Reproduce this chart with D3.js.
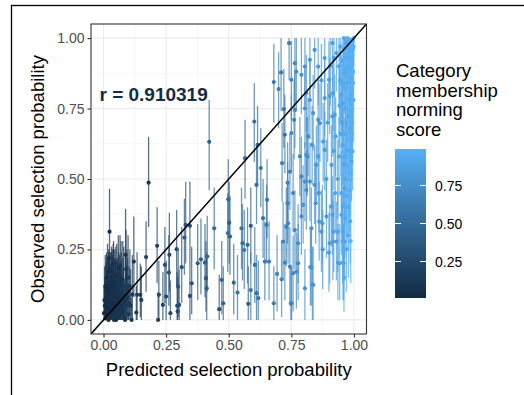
<!DOCTYPE html>
<html><head><meta charset="utf-8">
<script src="https://cdn.jsdelivr.net/npm/d3@7"></script>
<style>body{margin:0;background:#fff}svg{display:block}text{font-family:"Liberation Sans",Arial,Helvetica,sans-serif}</style>
</head><body>
<script>
// Each row: [predicted, observed, lower, upper, norming score]
const lowCluster = [
[0.024,0.313,0.17,0.465,0.05],[0.088,0.231,0.10,0.394,0.10],[0.121,0.207,0.08,0.367,0.12],
[0.059,0.184,0.07,0.30,0.08],[0.09,0.18,0.06,0.32,0.15],[0.081,0.124,0.03,0.26,0.12],
[0.077,0.142,0.04,0.28,0.10],[0.021,0.219,0.10,0.25,0.06],[0.088,0.118,0.02,0.24,0.14],
[0.035,0.136,0.03,0.25,0.07],[0.055,0.112,0.02,0.22,0.09],[0.072,0.071,0.0,0.20,0.11],
[0.061,0.053,0.0,0.18,0.08],[0.028,0.035,0.0,0.16,0.05],[0.002,0.024,0.0,0.12,0.01],
[0.021,0.118,0.03,0.24,0.06],[0.041,0.083,0.0,0.22,0.07],[0.075,0.024,0.0,0.14,0.09],
[0.134,0.089,0.0,0.24,0.16],[0.147,0.089,0.01,0.20,0.18],[0.151,0.071,0.0,0.19,0.15],
[0.131,0.026,0.0,0.12,0.14],[0.112,0.0,0.0,0.08,0.13],[0.005,0.05,0.0,0.15,0.04],
[0.01,0.08,0.0,0.20,0.05],[0.012,0.15,0.05,0.24,0.04],[0.015,0.03,0.0,0.13,0.06],
[0.018,0.10,0.01,0.22,0.03],[0.03,0.06,0.0,0.19,0.05],[0.032,0.17,0.07,0.26,0.06],
[0.038,0.02,0.0,0.11,0.07],[0.044,0.12,0.02,0.25,0.04],[0.048,0.045,0.0,0.17,0.06],
[0.05,0.09,0.0,0.21,0.08],[0.053,0.16,0.06,0.27,0.05],[0.058,0.01,0.0,0.10,0.07],
[0.064,0.10,0.01,0.23,0.09],[0.068,0.035,0.0,0.16,0.10],[0.07,0.14,0.04,0.28,0.07],
[0.079,0.06,0.0,0.18,0.11],[0.084,0.01,0.0,0.12,0.10],[0.092,0.05,0.0,0.19,0.13],
[0.096,0.08,0.0,0.22,0.12],[0.10,0.02,0.0,0.13,0.11],[0.105,0.12,0.02,0.25,0.14],
[0.008,0.005,0.0,0.09,0.03],[0.026,0.09,0.0,0.20,0.04],[0.045,0.025,0.0,0.14,0.05],
[0.062,0.075,0.0,0.20,0.06],[0.014,0.06,0.0,0.17,0.05],[0.036,0.10,0.01,0.23,0.09],
[0.066,0.19,0.08,0.30,0.07],[0.04,0.20,0.09,0.28,0.05],[0.098,0.15,0.05,0.30,0.12],
[0.115,0.09,0.0,0.23,0.15],[0.108,0.05,0.0,0.18,0.13],[0.02,0.0,0.0,0.08,0.04],
[0.05,0.0,0.0,0.09,0.05],[0.086,0.0,0.0,0.11,0.08],[0.18,0.487,0.33,0.65,0.12],
[0.004,0.07,0.0,0.19,0.02],[0.007,0.12,0.02,0.23,0.03],[0.011,0.02,0.0,0.14,0.04],
[0.016,0.17,0.06,0.27,0.05],[0.019,0.045,0.0,0.16,0.03],[0.023,0.07,0.0,0.21,0.06],
[0.027,0.13,0.03,0.24,0.04],[0.029,0.01,0.0,0.12,0.05],[0.033,0.08,0.0,0.20,0.06],
[0.037,0.05,0.0,0.18,0.04],[0.039,0.15,0.05,0.27,0.08],[0.042,0.00,0.0,0.10,0.06],
[0.046,0.07,0.0,0.19,0.07],[0.049,0.13,0.03,0.26,0.05],[0.052,0.04,0.0,0.15,0.09],
[0.056,0.08,0.0,0.21,0.07],[0.06,0.12,0.02,0.24,0.08],[0.063,0.02,0.0,0.13,0.10],
[0.067,0.06,0.0,0.18,0.09],[0.071,0.11,0.01,0.24,0.12],[0.074,0.04,0.0,0.16,0.10],
[0.078,0.09,0.0,0.22,0.09],[0.082,0.03,0.0,0.14,0.12],[0.089,0.07,0.0,0.20,0.11],
[0.094,0.11,0.01,0.25,0.13],[0.102,0.06,0.0,0.19,0.12],[0.013,0.11,0.02,0.22,0.02],
[0.031,0.11,0.01,0.24,0.05],[0.047,0.10,0.0,0.22,0.06],[0.069,0.09,0.0,0.21,0.08]
];
const midLow = [
[0.17,0.223,0.10,0.35,0.18],[0.214,0.263,0.13,0.40,0.22],[0.218,0.0,0.0,0.10,0.20],
[0.221,0.089,0.0,0.21,0.25],[0.237,0.053,0.0,0.17,0.22],[0.245,0.195,0.06,0.33,0.28],
[0.263,0.231,0.10,0.38,0.26],[0.261,0.168,0.05,0.30,0.30],[0.25,0.083,0.0,0.21,0.24],
[0.267,0.024,0.0,0.14,0.27],[0.294,0.05,0.0,0.17,0.25],[0.298,0.118,0.01,0.25,0.33],
[0.292,0.251,0.12,0.39,0.30],[0.312,0.187,0.06,0.33,0.35],[0.323,0.292,0.16,0.43,0.38],
[0.345,0.334,0.21,0.49,0.30],[0.328,0.337,0.20,0.49,0.35],[0.352,0.13,0.02,0.26,0.33],
[0.345,0.085,0.0,0.21,0.30],[0.302,0.053,0.0,0.18,0.28],[0.296,0.03,0.0,0.15,0.24],
[0.376,0.201,0.07,0.34,0.40],[0.389,0.215,0.09,0.36,0.42],[0.405,0.203,0.08,0.34,0.38],
[0.414,0.225,0.10,0.37,0.45],[0.409,0.148,0.03,0.28,0.36],[0.412,0.112,0.0,0.24,0.40],
[0.442,0.325,0.18,0.47,0.50],[0.422,0.632,0.46,0.78,0.45],[0.472,0.142,0.02,0.28,0.48],
[0.478,0.059,0.0,0.19,0.45],[0.462,0.038,0.0,0.16,0.30]
];
const midRange = [
[0.498,0.428,0.29,0.57,0.50],[0.502,0.345,0.20,0.49,0.42],[0.496,0.308,0.17,0.45,0.55],
[0.505,0.296,0.16,0.44,0.48],[0.52,0.132,0.02,0.27,0.50],[0.535,0.097,0.0,0.23,0.55],
[0.551,0.325,0.18,0.47,0.55],[0.555,0.272,0.14,0.41,0.50],[0.562,0.248,0.11,0.39,0.58],
[0.575,0.266,0.13,0.40,0.52],[0.588,0.334,0.20,0.47,0.40],[0.565,0.574,0.43,0.71,0.50],
[0.602,0.704,0.56,0.84,0.55],[0.615,0.621,0.48,0.76,0.50],[0.628,0.539,0.40,0.68,0.58],
[0.611,0.479,0.34,0.62,0.52],[0.637,0.361,0.22,0.50,0.55],[0.604,0.195,0.06,0.33,0.55],
[0.588,0.106,0.0,0.24,0.58],[0.578,0.057,0.0,0.19,0.45],[0.611,0.095,0.0,0.23,0.55],
[0.618,0.077,0.0,0.21,0.60],[0.651,0.337,0.20,0.48,0.60],[0.653,0.426,0.29,0.57,0.58],
[0.644,0.207,0.07,0.35,0.62],[0.661,0.207,0.07,0.35,0.65],[0.68,0.059,0.0,0.19,0.62],
[0.693,0.163,0.03,0.30,0.68],[0.68,0.844,0.70,0.98,0.60],[0.699,0.819,0.68,0.95,0.65],
[0.709,0.878,0.74,1.0,0.62],[0.72,0.748,0.61,0.89,0.60],[0.724,0.657,0.52,0.80,0.58],
[0.741,0.982,0.85,1.0,0.65]
];
const upperRange = [
[0.711,0.144,0.01,0.28,0.70],[0.717,0.278,0.14,0.42,0.68],[0.724,0.203,0.07,0.34,0.72],
[0.735,0.414,0.27,0.56,0.66],[0.737,0.343,0.20,0.49,0.70],[0.751,0.059,0.0,0.19,0.68],
[0.757,0.166,0.03,0.30,0.72],[0.77,0.171,0.04,0.31,0.74],[0.777,0.201,0.07,0.34,0.70],
[0.764,0.319,0.18,0.46,0.72],[0.79,0.367,0.23,0.51,0.75],[0.804,0.112,0.0,0.25,0.78],
[0.826,0.187,0.05,0.33,0.76],[0.834,0.126,0.0,0.26,0.80],[0.83,0.325,0.18,0.47,0.78],
[0.847,0.414,0.27,0.56,0.80],[0.87,0.313,0.17,0.46,0.82],[0.9,0.239,0.10,0.38,0.85],
[0.916,0.278,0.14,0.42,0.84],[0.936,0.203,0.07,0.34,0.88],[0.956,0.203,0.07,0.34,0.90],
[0.963,0.278,0.14,0.42,0.88],[0.93,0.278,0.14,0.42,0.86],[0.91,0.402,0.26,0.55,0.86],
[0.95,0.373,0.23,0.52,0.90],[0.89,0.367,0.22,0.51,0.84],[0.713,0.556,0.42,0.70,0.66],
[0.735,0.487,0.35,0.63,0.68],[0.757,0.45,0.31,0.59,0.72],[0.73,0.331,0.19,0.47,0.66],
[0.777,0.272,0.13,0.41,0.74],[0.744,0.189,0.05,0.33,0.70],[0.79,0.509,0.37,0.65,0.74],
[0.804,0.491,0.35,0.63,0.76],[0.797,0.408,0.27,0.55,0.78],[0.814,0.58,0.44,0.72,0.76],
[0.833,0.621,0.48,0.76,0.80],[0.824,0.491,0.35,0.63,0.78],[0.81,0.461,0.32,0.60,0.74],
[0.837,0.124,0.0,0.26,0.80],[0.748,0.059,0.0,0.19,0.70],[0.75,0.852,0.71,0.99,0.70],
[0.764,0.911,0.77,1.0,0.72],[0.77,0.881,0.74,1.0,0.74],[0.764,0.745,0.61,0.88,0.70],
[0.761,0.71,0.57,0.85,0.68],[0.75,0.663,0.52,0.80,0.72],[0.79,0.87,0.73,1.0,0.76],
[0.804,0.899,0.76,1.0,0.78],[0.824,0.923,0.79,1.0,0.80],[0.81,0.805,0.67,0.94,0.76],
[0.804,0.751,0.61,0.89,0.78],[0.817,0.651,0.51,0.79,0.74],[0.81,0.586,0.45,0.72,0.78],
[0.784,0.58,0.44,0.72,0.72],[0.744,0.526,0.39,0.66,0.70]
];
const rightColumn = [
[0.843,0.958,0.82,1.0,0.82],[0.857,0.899,0.76,1.0,0.84],[0.883,0.929,0.79,1.0,0.85],
[0.914,0.982,0.85,1.0,0.88],[0.93,0.947,0.81,1.0,0.88],[0.883,0.787,0.65,0.92,0.84],
[0.916,0.805,0.67,0.94,0.86],[0.923,0.728,0.59,0.87,0.88],[0.864,0.698,0.56,0.84,0.82],
[0.837,0.734,0.60,0.87,0.80],[0.877,0.633,0.49,0.77,0.84],[0.883,0.603,0.46,0.74,0.86],
[0.85,0.55,0.41,0.69,0.82],[0.843,0.479,0.34,0.62,0.80],[0.861,0.349,0.21,0.49,0.84],
[0.874,0.343,0.20,0.48,0.86],[0.83,0.186,0.05,0.32,0.80],[0.903,0.272,0.13,0.41,0.86],
[0.919,0.313,0.17,0.45,0.88],[0.936,0.313,0.17,0.45,0.90],[0.956,0.313,0.17,0.45,0.92],
[0.943,0.201,0.07,0.34,0.90],[0.959,0.201,0.07,0.34,0.92],[0.914,0.373,0.23,0.51,0.88],
[0.956,0.402,0.26,0.54,0.92],[0.963,0.467,0.33,0.61,0.92],[0.994,0.598,0.46,0.74,0.95],
[0.99,0.562,0.42,0.70,0.95],[0.9,0.852,0.71,0.99,0.86],[0.903,0.795,0.66,0.93,0.88],
[0.914,0.722,0.58,0.86,0.86],[0.927,0.651,0.51,0.79,0.90],[0.956,0.769,0.63,0.91,0.92],
[0.857,0.58,0.44,0.72,0.84],[0.824,0.78,0.64,0.92,0.80],[0.857,0.71,0.57,0.85,0.82],
[0.94,0.90,0.76,1.0,0.90],[0.945,0.85,0.70,0.98,0.91],[0.95,0.80,0.65,0.94,0.92],
[0.952,0.70,0.55,0.85,0.90],[0.955,0.62,0.48,0.77,0.93],[0.958,0.55,0.40,0.70,0.92],
[0.96,0.96,0.82,1.0,0.93],[0.962,0.88,0.73,1.0,0.94],[0.965,0.75,0.60,0.90,0.93],
[0.967,0.66,0.50,0.80,0.95],[0.968,0.50,0.35,0.65,0.94],[0.97,0.99,0.86,1.0,0.95],
[0.972,0.93,0.78,1.0,0.96],[0.973,0.84,0.69,0.98,0.95],[0.975,0.72,0.57,0.87,0.96],
[0.976,0.60,0.45,0.75,0.94],[0.977,0.40,0.25,0.55,0.96],[0.978,0.30,0.15,0.45,0.95],
[0.98,0.97,0.84,1.0,0.97],[0.981,0.89,0.75,1.0,0.96],[0.982,0.78,0.63,0.92,0.97],
[0.983,0.68,0.53,0.82,0.96],[0.984,0.52,0.37,0.67,0.97],[0.985,0.99,0.87,1.0,0.98],
[0.986,0.95,0.81,1.0,0.97],[0.987,0.86,0.72,0.99,0.98],[0.988,0.74,0.59,0.88,0.97],
[0.989,0.64,0.49,0.78,0.98],[0.99,0.98,0.86,1.0,0.98],[0.991,0.92,0.78,1.0,0.98],
[0.992,0.82,0.67,0.96,0.98],[0.993,0.70,0.55,0.84,0.99],[0.995,0.99,0.88,1.0,0.99],
[0.996,0.96,0.83,1.0,0.99],[0.997,0.88,0.74,1.0,0.99],[0.998,0.78,0.63,0.92,0.99],
[0.999,1.0,0.90,1.0,0.99],[0.975,1.0,0.89,1.0,0.97],[0.96,1.0,0.88,1.0,0.96],
[0.965,0.98,0.85,1.0,0.95],[0.98,0.995,0.88,1.0,0.98],[0.99,0.995,0.89,1.0,0.99],
[0.945,0.97,0.83,1.0,0.93],[0.95,0.45,0.31,0.60,0.92],[0.97,0.25,0.10,0.40,0.95],
[0.985,0.35,0.20,0.50,0.96],[0.94,0.58,0.44,0.72,0.91],[0.935,0.50,0.36,0.64,0.90],
[0.925,0.45,0.31,0.59,0.89],[0.92,0.60,0.46,0.74,0.88],[0.91,0.55,0.41,0.69,0.87],
[0.895,0.70,0.56,0.84,0.86],[0.905,0.90,0.76,1.0,0.87],[0.92,0.93,0.79,1.0,0.88],
[0.87,0.85,0.71,0.98,0.84],[0.86,0.45,0.31,0.59,0.83],[0.89,0.50,0.36,0.64,0.85],
[0.875,0.25,0.11,0.39,0.84],[0.96,0.15,0.03,0.28,0.93],
[0.942,0.76,0.61,0.90,0.91],[0.948,0.66,0.51,0.80,0.92],[0.953,0.92,0.78,1.0,0.93],
[0.957,0.84,0.69,0.97,0.94],[0.961,0.58,0.43,0.72,0.94],[0.964,0.36,0.22,0.50,0.95],
[0.966,0.82,0.67,0.95,0.96],[0.969,0.70,0.55,0.84,0.96],[0.971,0.55,0.40,0.70,0.97],
[0.974,0.96,0.82,1.0,0.96],[0.977,0.86,0.71,0.99,0.97],[0.979,0.64,0.49,0.79,0.97],
[0.982,0.46,0.31,0.61,0.98],[0.984,0.93,0.79,1.0,0.97],[0.986,0.80,0.65,0.94,0.98],
[0.988,0.58,0.43,0.73,0.98],[0.99,0.88,0.74,1.0,0.99],[0.992,0.66,0.51,0.80,0.99],
[0.994,0.94,0.80,1.0,0.99],[0.996,0.84,0.69,0.98,0.99],[0.998,0.97,0.84,1.0,0.99],
[0.972,0.44,0.29,0.59,0.96],[0.987,0.28,0.13,0.43,0.97],[0.955,0.28,0.13,0.42,0.93]
];
const axisTicks = [0, 0.25, 0.5, 0.75, 1];
const minorTicks = [0.125, 0.375, 0.625, 0.875];
const legendTicks = [0.25, 0.5, 0.75];
const corrLabel = "r = 0.910319";
const legendTitle = ["Category", "membership", "norming", "score"];

const rows = [].concat(lowCluster, midLow, midRange, upperRange, rightColumn)
  .map(r => ({pred: r[0], obs: r[1], lo: r[2], hi: r[3], score: r[4]}));

const W = 524, H = 395;
const P = {l: 91, r: 366.5, t: 24, b: 334};
const svg = d3.select("body").append("svg").attr("width", W).attr("height", H);

// outer frame
svg.append("rect").attr("x", 11.5).attr("y", 5.5).attr("width", 700).attr("height", 600)
  .attr("fill", "none").attr("stroke", "#000").attr("stroke-width", 1.3);

const x = d3.scaleLinear().domain([-0.05, 1.05]).range([P.l, P.r]);
const y = d3.scaleLinear().domain([-0.05, 1.05]).range([P.b, P.t]);
const scoreExt = d3.extent(rows, d => d.score);
const color = d3.scaleLinear().domain(scoreExt).range(["#132B43", "#56B1F7"])
  .interpolate(d3.interpolateLab).clamp(true);

svg.append("defs").append("clipPath").attr("id", "pclip").append("rect")
  .attr("x", P.l).attr("y", P.t).attr("width", P.r - P.l).attr("height", P.b - P.t);

const grid = svg.append("g");
minorTicks.forEach(v => {
  grid.append("line").attr("x1", x(v)).attr("x2", x(v)).attr("y1", P.t).attr("y2", P.b)
    .attr("stroke", "#f2f2f2").attr("stroke-width", 0.6);
  grid.append("line").attr("y1", y(v)).attr("y2", y(v)).attr("x1", P.l).attr("x2", P.r)
    .attr("stroke", "#f2f2f2").attr("stroke-width", 0.6);
});
axisTicks.forEach(v => {
  grid.append("line").attr("x1", x(v)).attr("x2", x(v)).attr("y1", P.t).attr("y2", P.b)
    .attr("stroke", "#ebebeb").attr("stroke-width", 1.1);
  grid.append("line").attr("y1", y(v)).attr("y2", y(v)).attr("x1", P.l).attr("x2", P.r)
    .attr("stroke", "#ebebeb").attr("stroke-width", 1.1);
});

const plot = svg.append("g").attr("clip-path", "url(#pclip)");
plot.selectAll("line.eb").data(rows).join("line").attr("class", "eb")
  .attr("x1", d => x(d.pred)).attr("x2", d => x(d.pred))
  .attr("y1", d => y(d.lo)).attr("y2", d => y(d.hi))
  .attr("stroke", d => color(d.score)).attr("stroke-width", 1.3).attr("stroke-opacity", 0.72);
plot.selectAll("circle").data(rows).join("circle")
  .attr("cx", d => x(d.pred)).attr("cy", d => y(d.obs)).attr("r", 2.1)
  .attr("fill", d => color(d.score));
plot.append("line").attr("x1", x(-0.05)).attr("y1", y(-0.05)).attr("x2", x(1.05)).attr("y2", y(1.05))
  .attr("stroke", "#000").attr("stroke-width", 1.5);

svg.append("text").attr("x", x(0.2)).attr("y", y(0.8)).attr("dy", "0.36em")
  .attr("text-anchor", "middle").attr("font-weight", "bold").attr("font-size", 19)
  .attr("fill", "#132B43").text(corrLabel);

svg.append("rect").attr("x", P.l).attr("y", P.t).attr("width", P.r - P.l).attr("height", P.b - P.t)
  .attr("fill", "none").attr("stroke", "#333").attr("stroke-width", 1.1);

// axes
const xa = svg.append("g").attr("transform", `translate(0,${P.b})`)
  .call(d3.axisBottom(x).tickValues(axisTicks).tickFormat(d3.format(".2f")).tickSize(3.5).tickPadding(3));
const ya = svg.append("g").attr("transform", `translate(${P.l},0)`)
  .call(d3.axisLeft(y).tickValues(axisTicks).tickFormat(d3.format(".2f")).tickSize(3.5).tickPadding(3));
[xa, ya].forEach(a => {
  a.select(".domain").remove();
  a.selectAll(".tick line").attr("stroke", "#333").attr("stroke-width", 1.1);
  a.selectAll(".tick text").attr("fill", "#4d4d4d").attr("font-size", 14)
    .attr("font-family", '"Liberation Sans",Arial,sans-serif');
});

svg.append("text").attr("x", (P.l + P.r) / 2).attr("y", 376).attr("text-anchor", "middle")
  .attr("font-size", 18.5).attr("fill", "#000").text("Predicted selection probability");
svg.append("text").attr("transform", `translate(44,${(P.t + P.b) / 2}) rotate(-90)`)
  .attr("text-anchor", "middle").attr("font-size", 18.5).attr("fill", "#000")
  .text("Observed selection probability");

// legend
const lg = svg.append("g");
legendTitle.forEach((t, i) => lg.append("text").attr("x", 396).attr("y", 77 + i * 19.5)
  .attr("font-size", 18.5).attr("fill", "#000").text(t));
const barX = 395, barW = 31, barTop = 149, barBot = 298;
const ls = d3.scaleLinear().domain(scoreExt).range([barBot, barTop]);
const grad = svg.select("defs").append("linearGradient").attr("id", "lgrad")
  .attr("x1", 0).attr("x2", 0).attr("y1", 1).attr("y2", 0);
d3.range(0, 1.0001, 0.1).forEach(t => grad.append("stop").attr("offset", t)
  .attr("stop-color", color(scoreExt[0] + t * (scoreExt[1] - scoreExt[0]))));
lg.append("rect").attr("x", barX).attr("y", barTop).attr("width", barW).attr("height", barBot - barTop)
  .attr("fill", "url(#lgrad)");
legendTicks.forEach(v => {
  lg.append("line").attr("x1", barX).attr("x2", barX + 6).attr("y1", ls(v)).attr("y2", ls(v))
    .attr("stroke", "#fff").attr("stroke-width", 1);
  lg.append("line").attr("x1", barX + barW - 6).attr("x2", barX + barW).attr("y1", ls(v)).attr("y2", ls(v))
    .attr("stroke", "#fff").attr("stroke-width", 1);
  lg.append("text").attr("x", 435).attr("y", ls(v)).attr("dy", "0.36em")
    .attr("font-size", 14).attr("fill", "#000").text(d3.format(".2f")(v));
});
</script>
</body></html>
